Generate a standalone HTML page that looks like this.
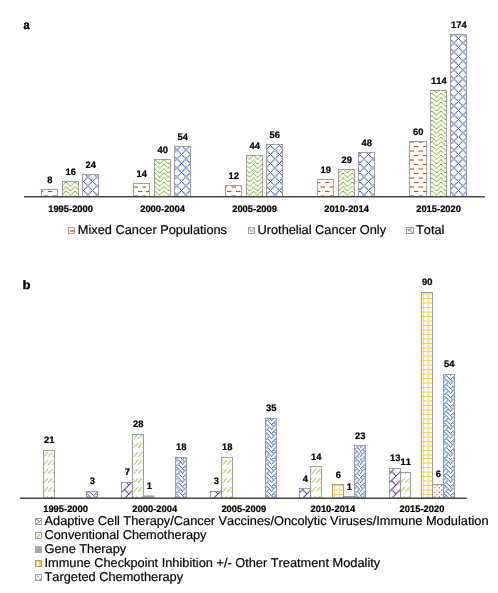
<!DOCTYPE html>
<html lang="en">
<head>
<meta charset="utf-8">
<title>Figure</title>
<style>
html,body{margin:0;padding:0;background:#fff;}
body{width:498px;height:593px;overflow:hidden;}
svg{display:block;}
svg text{font-family:"Liberation Sans",Arial,Helvetica,sans-serif;fill:#000;text-rendering:geometricPrecision;font-kerning:none;}
</style>
</head>
<body>
<svg width="498" height="593" viewBox="0 0 498 593">
<defs><pattern id="c-dashH" patternUnits="userSpaceOnUse" width="9" height="9"><g><rect width="9" height="9" fill="#fff"/><rect x="0" y="0" width="4.5" height="1.06" fill="#d9451f"/><rect x="4.5" y="4.1" width="4.5" height="1.9" fill="#ef9355"/></g></pattern><pattern id="p-dashH" patternUnits="userSpaceOnUse" x="39" y="30" width="107" height="107"><rect width="107" height="107" fill="url(#c-dashH)"/></pattern><pattern id="c-zig" patternUnits="userSpaceOnUse" width="9" height="9"><g fill="#7db630"><rect width="9" height="9" fill="#fff"/><rect x="0.000" y="0.000" width="1.125" height="1.125"/><rect x="7.875" y="0.000" width="1.125" height="1.125"/><rect x="1.125" y="1.125" width="1.125" height="1.125"/><rect x="6.750" y="1.125" width="1.125" height="1.125"/><rect x="2.250" y="2.250" width="1.125" height="1.125"/><rect x="5.625" y="2.250" width="1.125" height="1.125"/><rect x="3.375" y="3.375" width="2.250" height="1.125"/><rect x="0.000" y="4.500" width="1.125" height="1.125"/><rect x="7.875" y="4.500" width="1.125" height="1.125"/><rect x="1.125" y="5.625" width="1.125" height="1.125"/><rect x="6.750" y="5.625" width="1.125" height="1.125"/><rect x="2.250" y="6.750" width="1.125" height="1.125"/><rect x="5.625" y="6.750" width="1.125" height="1.125"/><rect x="3.375" y="7.875" width="2.250" height="1.125"/></g></pattern><pattern id="p-zig" patternUnits="userSpaceOnUse" x="39" y="30" width="107" height="107"><rect width="107" height="107" fill="url(#c-zig)"/></pattern><pattern id="c-dmnd" patternUnits="userSpaceOnUse" width="9" height="9"><g fill="#3c5fc2"><rect width="9" height="9" fill="#fff"/><rect x="-0.034" y="-0.034" width="1.193" height="1.193"/><rect x="6.716" y="-0.034" width="1.193" height="1.193"/><rect x="1.091" y="1.091" width="1.193" height="1.193"/><rect x="5.591" y="1.091" width="1.193" height="1.193"/><rect x="2.216" y="2.216" width="1.193" height="1.193"/><rect x="4.466" y="2.216" width="1.193" height="1.193"/><rect x="3.341" y="3.341" width="1.193" height="1.193"/><rect x="2.216" y="4.466" width="1.193" height="1.193"/><rect x="4.466" y="4.466" width="1.193" height="1.193"/><rect x="1.091" y="5.591" width="1.193" height="1.193"/><rect x="5.591" y="5.591" width="1.193" height="1.193"/><rect x="-0.034" y="6.716" width="1.193" height="1.193"/><rect x="6.716" y="6.716" width="1.193" height="1.193"/><rect x="7.841" y="7.841" width="1.193" height="1.193"/></g></pattern><pattern id="p-dmnd" patternUnits="userSpaceOnUse" x="39" y="30" width="107" height="107"><rect width="107" height="107" fill="url(#c-dmnd)"/></pattern><pattern id="c-brick" patternUnits="userSpaceOnUse" width="9" height="9"><g fill="#6232a2"><rect width="9" height="9" fill="#fff"/><rect x="7.791" y="-0.084" width="1.294" height="1.294"/><rect x="6.666" y="1.041" width="1.294" height="1.294"/><rect x="5.541" y="2.166" width="1.294" height="1.294"/><rect x="4.416" y="3.291" width="1.294" height="1.294"/><rect x="3.291" y="4.416" width="2.419" height="1.294"/><rect x="2.166" y="5.541" width="1.294" height="1.294"/><rect x="5.541" y="5.541" width="1.294" height="1.294"/><rect x="1.041" y="6.666" width="1.294" height="1.294"/><rect x="6.666" y="6.666" width="1.294" height="1.294"/><rect x="-0.084" y="7.791" width="1.294" height="1.294"/><rect x="7.791" y="7.791" width="1.294" height="1.294"/></g></pattern><pattern id="p-brick" patternUnits="userSpaceOnUse" x="39" y="30" width="107" height="107"><rect width="107" height="107" fill="url(#c-brick)"/></pattern><pattern id="c-dashUp" patternUnits="userSpaceOnUse" width="9" height="9"><g fill="#a5cc60"><rect width="9" height="9" fill="#fff"/><rect x="3.291" y="2.166" width="1.294" height="1.294"/><rect x="7.791" y="2.166" width="1.294" height="1.294"/><rect x="2.166" y="3.291" width="1.294" height="1.294"/><rect x="6.666" y="3.291" width="1.294" height="1.294"/><rect x="1.041" y="4.416" width="1.294" height="1.294"/><rect x="5.541" y="4.416" width="1.294" height="1.294"/><rect x="-0.084" y="5.541" width="1.294" height="1.294"/><rect x="4.416" y="5.541" width="1.294" height="1.294"/></g></pattern><pattern id="p-dashUp" patternUnits="userSpaceOnUse" x="39" y="30" width="107" height="107"><rect width="107" height="107" fill="url(#c-dashUp)"/></pattern><pattern id="c-grid" patternUnits="userSpaceOnUse" width="9" height="9"><g fill="#fbd150"><rect width="9" height="9" fill="#fff"/><rect x="0.000" y="0.000" width="9.000" height="1.125"/><rect x="0.000" y="1.125" width="1.125" height="1.125"/><rect x="4.500" y="1.125" width="1.125" height="1.125"/><rect x="0.000" y="2.250" width="1.125" height="1.125"/><rect x="4.500" y="2.250" width="1.125" height="1.125"/><rect x="0.000" y="3.375" width="1.125" height="1.125"/><rect x="4.500" y="3.375" width="1.125" height="1.125"/><rect x="0.000" y="4.500" width="9.000" height="1.125"/><rect x="0.000" y="5.625" width="1.125" height="1.125"/><rect x="4.500" y="5.625" width="1.125" height="1.125"/><rect x="0.000" y="6.750" width="1.125" height="1.125"/><rect x="4.500" y="6.750" width="1.125" height="1.125"/><rect x="0.000" y="7.875" width="1.125" height="1.125"/><rect x="4.500" y="7.875" width="1.125" height="1.125"/></g></pattern><pattern id="p-grid" patternUnits="userSpaceOnUse" x="39" y="30" width="107" height="107"><rect width="107" height="107" fill="url(#c-grid)"/></pattern><pattern id="c-dots" patternUnits="userSpaceOnUse" width="9" height="9"><g fill="#e2531f"><rect width="9" height="9" fill="#fff"/><rect x="-0.068" y="-0.068" width="1.260" height="1.260"/><rect x="4.433" y="-0.068" width="1.260" height="1.260"/><rect x="2.183" y="2.183" width="1.260" height="1.260"/><rect x="6.683" y="2.183" width="1.260" height="1.260"/><rect x="-0.068" y="4.433" width="1.260" height="1.260"/><rect x="4.433" y="4.433" width="1.260" height="1.260"/><rect x="2.183" y="6.683" width="1.260" height="1.260"/><rect x="6.683" y="6.683" width="1.260" height="1.260"/></g></pattern><pattern id="p-dots" patternUnits="userSpaceOnUse" x="39" y="30" width="107" height="107"><rect width="107" height="107" fill="url(#c-dots)"/></pattern><pattern id="c-weave" patternUnits="userSpaceOnUse" width="9" height="9"><g fill="#3f6ac6"><rect width="9" height="9" fill="#fff"/><rect x="1.091" y="-0.034" width="1.193" height="1.193"/><rect x="3.341" y="-0.034" width="1.193" height="1.193"/><rect x="7.841" y="-0.034" width="1.193" height="1.193"/><rect x="-0.034" y="1.091" width="1.193" height="1.193"/><rect x="4.466" y="1.091" width="1.193" height="1.193"/><rect x="1.091" y="2.216" width="1.193" height="1.193"/><rect x="3.341" y="2.216" width="1.193" height="1.193"/><rect x="5.591" y="2.216" width="1.193" height="1.193"/><rect x="2.216" y="3.341" width="1.193" height="1.193"/><rect x="6.716" y="3.341" width="1.193" height="1.193"/><rect x="1.091" y="4.466" width="1.193" height="1.193"/><rect x="5.591" y="4.466" width="1.193" height="1.193"/><rect x="7.841" y="4.466" width="1.193" height="1.193"/><rect x="-0.034" y="5.591" width="1.193" height="1.193"/><rect x="4.466" y="5.591" width="1.193" height="1.193"/><rect x="3.341" y="6.716" width="1.193" height="1.193"/><rect x="5.591" y="6.716" width="1.193" height="1.193"/><rect x="2.216" y="7.841" width="1.193" height="1.193"/><rect x="6.716" y="7.841" width="1.193" height="1.193"/></g></pattern><pattern id="p-weave" patternUnits="userSpaceOnUse" x="39" y="30" width="107" height="107"><rect width="107" height="107" fill="url(#c-weave)"/></pattern></defs>
<rect width="498" height="593" fill="#fff"/>
<rect x="41.5" y="189.5" width="16.0" height="7.0" fill="url(#p-dashH)" stroke="#909090" stroke-width="0.85"/>
<text x="49.80" y="182.60" font-size="9.4" font-weight="bold" text-anchor="middle" stroke="#000" stroke-width="0.22">8</text>
<rect x="62.5" y="181.5" width="16.0" height="15.0" fill="url(#p-zig)" stroke="#909090" stroke-width="0.85"/>
<text x="70.80" y="175.10" font-size="9.4" font-weight="bold" text-anchor="middle" stroke="#000" stroke-width="0.22">16</text>
<rect x="82.5" y="174.5" width="16.0" height="22.0" fill="url(#p-dmnd)" stroke="#909090" stroke-width="0.85"/>
<text x="90.80" y="168.10" font-size="9.4" font-weight="bold" text-anchor="middle" stroke="#000" stroke-width="0.22">24</text>
<text x="70.60" y="211.50" font-size="9.4" font-weight="bold" text-anchor="middle" stroke="#000" stroke-width="0.22">1995-2000</text>
<rect x="133.5" y="183.5" width="16.0" height="13.0" fill="url(#p-dashH)" stroke="#909090" stroke-width="0.85"/>
<text x="141.80" y="177.10" font-size="9.4" font-weight="bold" text-anchor="middle" stroke="#000" stroke-width="0.22">14</text>
<rect x="154.5" y="159.5" width="16.0" height="37.0" fill="url(#p-zig)" stroke="#909090" stroke-width="0.85"/>
<text x="162.80" y="153.10" font-size="9.4" font-weight="bold" text-anchor="middle" stroke="#000" stroke-width="0.22">40</text>
<rect x="174.5" y="146.5" width="16.0" height="50.0" fill="url(#p-dmnd)" stroke="#909090" stroke-width="0.85"/>
<text x="182.80" y="140.10" font-size="9.4" font-weight="bold" text-anchor="middle" stroke="#000" stroke-width="0.22">54</text>
<text x="162.60" y="211.50" font-size="9.4" font-weight="bold" text-anchor="middle" stroke="#000" stroke-width="0.22">2000-2004</text>
<rect x="225.5" y="185.5" width="16.0" height="11.0" fill="url(#p-dashH)" stroke="#909090" stroke-width="0.85"/>
<text x="233.80" y="179.10" font-size="9.4" font-weight="bold" text-anchor="middle" stroke="#000" stroke-width="0.22">12</text>
<rect x="246.5" y="155.5" width="16.0" height="41.0" fill="url(#p-zig)" stroke="#909090" stroke-width="0.85"/>
<text x="254.80" y="149.10" font-size="9.4" font-weight="bold" text-anchor="middle" stroke="#000" stroke-width="0.22">44</text>
<rect x="266.5" y="144.5" width="16.0" height="52.0" fill="url(#p-dmnd)" stroke="#909090" stroke-width="0.85"/>
<text x="274.80" y="138.10" font-size="9.4" font-weight="bold" text-anchor="middle" stroke="#000" stroke-width="0.22">56</text>
<text x="254.60" y="211.50" font-size="9.4" font-weight="bold" text-anchor="middle" stroke="#000" stroke-width="0.22">2005-2009</text>
<rect x="317.5" y="179.5" width="16.0" height="17.0" fill="url(#p-dashH)" stroke="#909090" stroke-width="0.85"/>
<text x="325.80" y="173.10" font-size="9.4" font-weight="bold" text-anchor="middle" stroke="#000" stroke-width="0.22">19</text>
<rect x="338.5" y="169.5" width="16.0" height="27.0" fill="url(#p-zig)" stroke="#909090" stroke-width="0.85"/>
<text x="346.80" y="163.10" font-size="9.4" font-weight="bold" text-anchor="middle" stroke="#000" stroke-width="0.22">29</text>
<rect x="358.5" y="152.5" width="16.0" height="44.0" fill="url(#p-dmnd)" stroke="#909090" stroke-width="0.85"/>
<text x="366.80" y="146.10" font-size="9.4" font-weight="bold" text-anchor="middle" stroke="#000" stroke-width="0.22">48</text>
<text x="346.60" y="211.50" font-size="9.4" font-weight="bold" text-anchor="middle" stroke="#000" stroke-width="0.22">2010-2014</text>
<rect x="409.5" y="141.5" width="17.0" height="55.0" fill="url(#p-dashH)" stroke="#909090" stroke-width="0.85"/>
<text x="418.30" y="135.10" font-size="9.4" font-weight="bold" text-anchor="middle" stroke="#000" stroke-width="0.22">60</text>
<rect x="430.5" y="90.5" width="16.0" height="106.0" fill="url(#p-zig)" stroke="#909090" stroke-width="0.85"/>
<text x="438.80" y="84.10" font-size="9.4" font-weight="bold" text-anchor="middle" stroke="#000" stroke-width="0.22">114</text>
<rect x="450.5" y="34.5" width="16.0" height="162.0" fill="url(#p-dmnd)" stroke="#909090" stroke-width="0.85"/>
<text x="458.80" y="28.10" font-size="9.4" font-weight="bold" text-anchor="middle" stroke="#000" stroke-width="0.22">174</text>
<text x="438.60" y="211.50" font-size="9.4" font-weight="bold" text-anchor="middle" stroke="#000" stroke-width="0.22">2015-2020</text>
<rect x="24.0" y="196" width="460.8" height="1.5" fill="#484848"/>
<rect x="68.5" y="227.5" width="6" height="6" fill="#fff"/>
<rect x="70" y="230" width="5" height="1.9" fill="#eb8c3c"/>
<rect x="68.5" y="227.5" width="6" height="6" fill="none" stroke="#909090" stroke-width="0.85"/>
<rect x="248.5" y="227.5" width="6" height="6" fill="#fff"/>
<path d="M248.8 228.4 L251 230.6 M254.4 228 L250.4 232 M253.4 231.4 L254.4 232.4" fill="none" stroke="#a0cb6c" stroke-width="1.1"/>
<rect x="248.5" y="227.5" width="6" height="6" fill="none" stroke="#909090" stroke-width="0.85"/>
<rect x="406.5" y="227.5" width="7" height="6" fill="#fff"/>
<path d="M407.2 229.6 L409 229.6 M408.2 231 L411.4 227.8 M409 229.4 L413.2 233.6" fill="none" stroke="#8497de" stroke-width="1.1"/>
<rect x="406.5" y="227.5" width="7" height="6" fill="none" stroke="#909090" stroke-width="0.85"/>
<text x="77.80" y="234.30" font-size="12.79" font-weight="normal" text-anchor="start" stroke="#000" stroke-width="0.2">Mixed Cancer Populations</text>
<text x="257.50" y="234.30" font-size="12.79" font-weight="normal" text-anchor="start" stroke="#000" stroke-width="0.2">Urothelial Cancer Only</text>
<text x="416.00" y="234.30" font-size="12.79" font-weight="normal" text-anchor="start" stroke="#000" stroke-width="0.2">Total</text>
<rect x="43.5" y="450.5" width="11.0" height="47.5" fill="url(#p-dashUp)" stroke="#909090" stroke-width="0.85"/>
<text x="49.30" y="443.40" font-size="9.4" font-weight="bold" text-anchor="middle" stroke="#000" stroke-width="0.22">21</text>
<rect x="86.5" y="491.5" width="11.0" height="6.5" fill="url(#p-weave)" stroke="#909090" stroke-width="0.85"/>
<text x="92.30" y="484.40" font-size="9.4" font-weight="bold" text-anchor="middle" stroke="#000" stroke-width="0.22">3</text>
<text x="65.60" y="512.20" font-size="9.4" font-weight="bold" text-anchor="middle" stroke="#000" stroke-width="0.22">1995-2000</text>
<rect x="121.5" y="482.5" width="11.0" height="15.5" fill="url(#p-brick)" stroke="#909090" stroke-width="0.85"/>
<text x="127.30" y="475.40" font-size="9.4" font-weight="bold" text-anchor="middle" stroke="#000" stroke-width="0.22">7</text>
<rect x="132.5" y="434.5" width="11.0" height="63.5" fill="url(#p-dashUp)" stroke="#909090" stroke-width="0.85"/>
<text x="138.30" y="427.40" font-size="9.4" font-weight="bold" text-anchor="middle" stroke="#000" stroke-width="0.22">28</text>
<rect x="143.5" y="495.4" width="11.0" height="2.6" fill="#a5a5a5"/>
<text x="149.30" y="489.40" font-size="9.4" font-weight="bold" text-anchor="middle" stroke="#000" stroke-width="0.22">1</text>
<rect x="175.5" y="457.5" width="11.0" height="40.5" fill="url(#p-weave)" stroke="#909090" stroke-width="0.85"/>
<text x="181.30" y="450.40" font-size="9.4" font-weight="bold" text-anchor="middle" stroke="#000" stroke-width="0.22">18</text>
<text x="154.70" y="512.20" font-size="9.4" font-weight="bold" text-anchor="middle" stroke="#000" stroke-width="0.22">2000-2004</text>
<rect x="210.5" y="491.5" width="11.0" height="6.5" fill="url(#p-brick)" stroke="#909090" stroke-width="0.85"/>
<text x="216.30" y="484.40" font-size="9.4" font-weight="bold" text-anchor="middle" stroke="#000" stroke-width="0.22">3</text>
<rect x="221.5" y="457.5" width="11.0" height="40.5" fill="url(#p-dashUp)" stroke="#909090" stroke-width="0.85"/>
<text x="227.30" y="450.40" font-size="9.4" font-weight="bold" text-anchor="middle" stroke="#000" stroke-width="0.22">18</text>
<rect x="265.5" y="418.5" width="11.0" height="79.5" fill="url(#p-weave)" stroke="#909090" stroke-width="0.85"/>
<text x="271.30" y="411.40" font-size="9.4" font-weight="bold" text-anchor="middle" stroke="#000" stroke-width="0.22">35</text>
<text x="243.80" y="512.20" font-size="9.4" font-weight="bold" text-anchor="middle" stroke="#000" stroke-width="0.22">2005-2009</text>
<rect x="299.5" y="488.5" width="11.0" height="9.5" fill="url(#p-brick)" stroke="#909090" stroke-width="0.85"/>
<text x="305.30" y="481.90" font-size="9.4" font-weight="bold" text-anchor="middle" stroke="#000" stroke-width="0.22">4</text>
<rect x="310.5" y="466.5" width="11.0" height="31.5" fill="url(#p-dashUp)" stroke="#909090" stroke-width="0.85"/>
<text x="316.30" y="459.90" font-size="9.4" font-weight="bold" text-anchor="middle" stroke="#000" stroke-width="0.22">14</text>
<rect x="332.5" y="484.5" width="11.0" height="13.5" fill="url(#p-grid)" stroke="#909090" stroke-width="0.85"/>
<text x="338.30" y="477.90" font-size="9.4" font-weight="bold" text-anchor="middle" stroke="#000" stroke-width="0.22">6</text>
<rect x="343.5" y="496.5" width="11.0" height="1.5" fill="url(#p-dots)" stroke="#909090" stroke-width="0.85"/>
<text x="349.30" y="489.90" font-size="9.4" font-weight="bold" text-anchor="middle" stroke="#000" stroke-width="0.22">1</text>
<rect x="354.5" y="445.5" width="11.0" height="52.5" fill="url(#p-weave)" stroke="#909090" stroke-width="0.85"/>
<text x="360.30" y="438.90" font-size="9.4" font-weight="bold" text-anchor="middle" stroke="#000" stroke-width="0.22">23</text>
<text x="332.90" y="512.20" font-size="9.4" font-weight="bold" text-anchor="middle" stroke="#000" stroke-width="0.22">2010-2014</text>
<rect x="389.5" y="468.5" width="11.0" height="29.5" fill="url(#p-brick)" stroke="#909090" stroke-width="0.85"/>
<text x="395.30" y="461.40" font-size="9.4" font-weight="bold" text-anchor="middle" stroke="#000" stroke-width="0.22">13</text>
<rect x="400.5" y="472.5" width="10.0" height="25.5" fill="url(#p-dashUp)" stroke="#909090" stroke-width="0.85"/>
<text x="405.80" y="465.40" font-size="9.4" font-weight="bold" text-anchor="middle" stroke="#000" stroke-width="0.22">11</text>
<rect x="421.5" y="292.5" width="11.0" height="205.5" fill="url(#p-grid)" stroke="#909090" stroke-width="0.85"/>
<text x="427.30" y="285.40" font-size="9.4" font-weight="bold" text-anchor="middle" stroke="#000" stroke-width="0.22">90</text>
<rect x="432.5" y="484.5" width="11.0" height="13.5" fill="url(#p-dots)" stroke="#909090" stroke-width="0.85"/>
<text x="438.30" y="477.40" font-size="9.4" font-weight="bold" text-anchor="middle" stroke="#000" stroke-width="0.22">6</text>
<rect x="443.5" y="374.5" width="11.0" height="123.5" fill="url(#p-weave)" stroke="#909090" stroke-width="0.85"/>
<text x="449.30" y="367.40" font-size="9.4" font-weight="bold" text-anchor="middle" stroke="#000" stroke-width="0.22">54</text>
<text x="422.00" y="512.20" font-size="9.4" font-weight="bold" text-anchor="middle" stroke="#000" stroke-width="0.22">2015-2020</text>
<rect x="20.0" y="497.45" width="446.8" height="1.5" fill="#484848"/>
<rect x="35.5" y="518.5" width="6" height="6" fill="#fff"/>
<path d="M36 519.1 L39 521.1 M35.8 524.5 L41.2 519.9" fill="none" stroke="#8a62bd" stroke-width="1.0"/>
<rect x="35.5" y="518.5" width="6" height="6" fill="none" stroke="#909090" stroke-width="0.85"/>
<rect x="35.5" y="532.5" width="6" height="6" fill="#fff"/>
<path d="M36.2 537.7 L40.2 534.1" fill="none" stroke="#b4d884" stroke-width="1.5"/>
<rect x="35.5" y="532.5" width="6" height="6" fill="none" stroke="#909090" stroke-width="0.85"/>
<rect x="35" y="546.1" width="7" height="6.9" fill="#a5a5a5"/>
<rect x="35.5" y="560.5" width="6" height="6" fill="#f7cf52"/>
<rect x="37.1" y="561.9" width="1.7" height="4.4" fill="#fff"/>
<rect x="35.5" y="560.5" width="6" height="6" fill="none" stroke="#909090" stroke-width="0.85"/>
<rect x="35.5" y="574.5" width="6" height="6" fill="#fff"/>
<rect x="37.5" y="576.1" width="1.2" height="1.2" fill="#e2633a"/>
<rect x="39.2" y="578.7" width="1.8" height="1.5" fill="#e88a55"/>
<rect x="36" y="579.1" width="1.4" height="1.2" fill="#eda27a"/>
<rect x="35.5" y="574.5" width="6" height="6" fill="none" stroke="#909090" stroke-width="0.85"/>
<text x="44.50" y="525.30" font-size="12.79" font-weight="normal" text-anchor="start" stroke="#000" stroke-width="0.2">Adaptive Cell Therapy/Cancer Vaccines/Oncolytic Viruses/Immune Modulation</text>
<text x="44.50" y="539.30" font-size="12.79" font-weight="normal" text-anchor="start" stroke="#000" stroke-width="0.2">Conventional Chemotherapy</text>
<text x="44.50" y="553.30" font-size="12.79" font-weight="normal" text-anchor="start" stroke="#000" stroke-width="0.2">Gene Therapy</text>
<text x="44.50" y="567.30" font-size="12.79" font-weight="normal" text-anchor="start" stroke="#000" stroke-width="0.2">Immune Checkpoint Inhibition +/- Other Treatment Modality</text>
<text x="44.50" y="581.30" font-size="12.79" font-weight="normal" text-anchor="start" stroke="#000" stroke-width="0.2">Targeted Chemotherapy</text>
<text transform="translate(23.6,28.6) scale(0.92,1)" font-size="12.1" font-weight="bold" stroke="#000" stroke-width="0.35">a</text>
<text transform="translate(22.4,288.9) scale(1.07,1)" font-size="12.3" font-weight="bold" stroke="#000" stroke-width="0.3">b</text>
</svg>
</body>
</html>
